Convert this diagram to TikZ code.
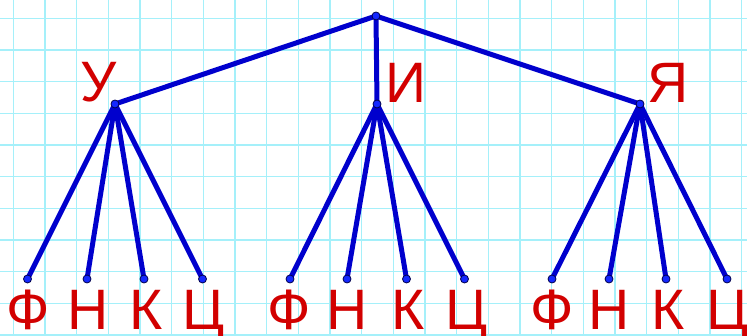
\documentclass[tikz,border=0pt]{standalone}
\usepackage{fontspec}
\setmainfont{Liberation Sans}
\definecolor{gridc}{RGB}{165,240,250}
\definecolor{edgec}{RGB}{0,0,205}
\definecolor{dotc}{RGB}{20,40,255}
\definecolor{letc}{RGB}{210,0,0}
\tikzset{
  gridline/.style={draw=gridc, line width=1.6pt},
  edge/.style={draw=edgec, line width=5pt},
  dot/.style={circle, fill=dotc, draw=black!70!blue, line width=0.8pt, inner sep=0pt, minimum size=8pt},
  letter/.style={text=letc, font=\fontsize{57}{60}\selectfont, inner sep=0pt, anchor=base},
}
\begin{document}
\begin{tikzpicture}[x=1pt, y=-1pt]
\useasboundingbox (0,0) rectangle (747,336);
\fill[white] (0,0) rectangle (747,336);
\foreach \k in {0,...,23} {
  \draw[gridline] ({13.33+31.667*\k},0) -- ({13.33+31.667*\k},336);
}
\foreach \k in {0,...,10} {
  \draw[gridline] (0,{18.33+31.667*\k}) -- (747,{18.33+31.667*\k});
}
% nodes
\coordinate (root) at (376,16);
\coordinate (u) at (115,104);
\coordinate (i) at (377,104);
\coordinate (ya) at (640,104);
\coordinate (u1) at (27.5,279);
\coordinate (u2) at (87,279);
\coordinate (u3) at (144,279);
\coordinate (u4) at (202.5,279);
\coordinate (i1) at (290,279);
\coordinate (i2) at (347,279);
\coordinate (i3) at (406.5,279);
\coordinate (i4) at (464.5,279);
\coordinate (ya1) at (552,279);
\coordinate (ya2) at (609,279);
\coordinate (ya3) at (666,279);
\coordinate (ya4) at (727,279);
% edges
\foreach \c in {u,i,ya} { \draw[edge] (root) -- (\c); }
\foreach \p in {u,i,ya} {
  \foreach \n in {1,2,3,4} { \draw[edge] (\p) -- (\p\n); }
}
% dots
\foreach \c in {root,u,i,ya,u1,u2,u3,u4,i1,i2,i3,i4,ya1,ya2,ya3,ya4} {
  \node[dot] (d\c) at (\c) {};
}
% labels
\node[letter] (lu) at (99,102) {У};
\node[letter] (li) at (405.5,103) {И};
\node[letter] (lya) at (668,103) {Я};
\node[letter] (lu1) at (28,330) {Ф};
\node[letter] (lu2) at (88,330) {Н};
\node[letter] (lu3) at (146.5,330) {К};
\node[letter] (lu4) at (203.5,330) {Ц};
\node[letter] (li1) at (289.5,330) {Ф};
\node[letter] (li2) at (347,330) {Н};
\node[letter] (li3) at (408,330) {К};
\node[letter] (li4) at (467,330) {Ц};
\node[letter] (lya1) at (552.5,330) {Ф};
\node[letter] (lya2) at (609.5,330) {Н};
\node[letter] (lya3) at (668,330) {К};
\node[letter] (lya4) at (728,330) {Ц};
\end{tikzpicture}
\end{document}
